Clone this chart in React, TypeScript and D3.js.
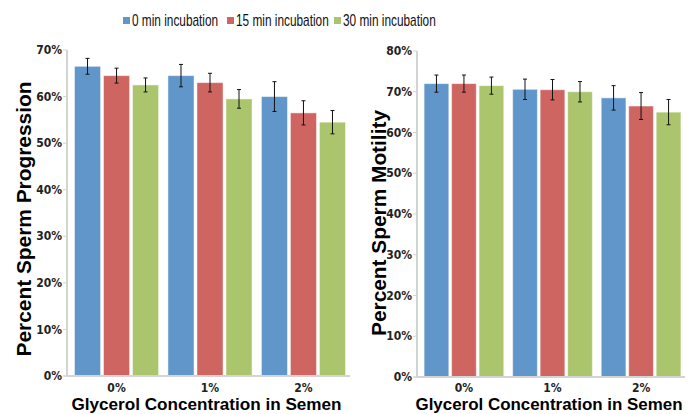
import * as d3 from 'd3';

// Data
const groups = ['0%', '1%', '2%'];
const seriesNames = ['0 min incubation', '15 min incubation', '30 min incubation'];
const seriesColors = ['#6096CA', '#CE6561', '#AAC56B'];

// Percent sperm progression (left panel), one array per series
const progression0 = [66.5, 64.5, 60.0];
const progression15 = [64.5, 63.0, 56.5];
const progression30 = [62.5, 59.5, 54.5];
const progressionErr0 = [1.7, 2.4, 3.2];
const progressionErr15 = [1.6, 2.0, 2.6];
const progressionErr30 = [1.5, 2.0, 2.5];

// Percent sperm motility (right panel)
const motility0 = [72.0, 70.6, 68.5];
const motility15 = [72.0, 70.5, 66.5];
const motility30 = [71.5, 70.0, 65.0];
const motilityErr0 = [2.1, 2.5, 3.0];
const motilityErr15 = [2.1, 2.5, 3.3];
const motilityErr30 = [2.1, 2.5, 3.1];

const progressionTicks = [0, 10, 20, 30, 40, 50, 60, 70];
const motilityTicks = [0, 10, 20, 30, 40, 50, 60, 70, 80];

const W = 693;
const H = 414;
const TICK_FONT = "'Liberation Sans Narrow', 'Arial Narrow', 'DejaVu Sans Condensed', sans-serif";
const FONT = "'Liberation Sans', Arial, sans-serif";

type PanelProps = {
  left: number;
  right: number;
  top: number;
  bottom: number;
  yMax: number;
  ticks: number[];
  values: number[][];
  errors: number[][];
  yTitle: string;
  yTitleX: number;
  yTitleY: number;
  yTitleLen: number;
  xTitleLen: number;
};

function Panel(p: PanelProps) {
  const { left, right, top, bottom, yMax, ticks, values, errors } = p;
  const y = d3.scaleLinear().domain([0, yMax]).range([bottom, top]);
  const x0 = d3.scaleBand<string>().domain(groups).range([left, right + 3]).paddingInner(0.1).paddingOuter(0.08);
  const x1 = d3.scaleBand<number>().domain([0, 1, 2]).range([0, x0.bandwidth()]).paddingInner(0.1);
  const axisColor = '#D4D4D4';

  return (
    <g>
      {/* y axis */}
      <line x1={left} x2={left} y1={top} y2={bottom} stroke={axisColor} strokeWidth={2} />
      {ticks.map((t) => (
        <g key={t}>
          <line x1={left - 4} x2={left} y1={y(t)} y2={y(t)} stroke={axisColor} strokeWidth={1} />
          <text
            x={left - 5}
            y={y(t)}
            dy="0.35em"
            textAnchor="end"
            fontFamily={TICK_FONT}
            fontWeight="bold"
            fontSize={12}
            fill="#222"
          >
            {t + '%'}
          </text>
        </g>
      ))}

      {/* bars with error bars */}
      {groups.map((g, gi) => (
        <g key={g} transform={'translate(' + x0(g) + ',0)'}>
          {values.map((vals, si) => {
            const bx = x1(si) as number;
            const bw = x1.bandwidth();
            const cx = bx + bw / 2;
            const v = vals[gi];
            const e = errors[si][gi];
            return (
              <g key={si}>
                <rect
                  x={bx}
                  y={y(v)}
                  width={bw}
                  height={bottom - y(v)}
                  fill={seriesColors[si]}
                  stroke="#FFFFFF"
                  strokeOpacity={0.5}
                  strokeWidth={1}
                />
                <line x1={cx} x2={cx} y1={y(v + e)} y2={y(v - e)} stroke="#111" strokeWidth={1} />
                <line x1={cx - 2} x2={cx + 2} y1={y(v + e)} y2={y(v + e)} stroke="#111" strokeWidth={1} />
                <line x1={cx - 2} x2={cx + 2} y1={y(v - e)} y2={y(v - e)} stroke="#111" strokeWidth={1} />
              </g>
            );
          })}
          <text
            x={x0.bandwidth() / 2}
            y={388}
            dy="0.35em"
            textAnchor="middle"
            fontFamily={TICK_FONT}
            fontWeight="bold"
            fontSize={12}
            fill="#222"
          >
            {g}
          </text>
        </g>
      ))}

      {/* x axis */}
      <line x1={left} x2={right} y1={bottom} y2={bottom} stroke={axisColor} strokeWidth={2} />
      <line x1={left - 4} x2={left} y1={bottom} y2={bottom} stroke={axisColor} strokeWidth={1} />

      {/* titles */}
      <text
        transform={'translate(' + p.yTitleX + ',' + p.yTitleY + ') rotate(-90)'}
        textAnchor="middle"
        fontFamily={FONT}
        fontWeight="bold"
        fontSize={21}
        textLength={p.yTitleLen}
        lengthAdjust="spacingAndGlyphs"
        fill="#000"
      >
        {p.yTitle}
      </text>
      <text
        x={(left + right) / 2 - 2}
        y={410}
        textAnchor="middle"
        fontFamily={FONT}
        fontWeight="bold"
        fontSize={16}
        textLength={p.xTitleLen}
        lengthAdjust="spacingAndGlyphs"
        fill="#000"
      >
        Glycerol Concentration in Semen
      </text>
    </g>
  );
}

export default function App() {
  const legendX = [123, 227, 334];

  return (
    <svg width={W} height={H} style={{ position: 'absolute', left: 0, top: 0, background: '#fff' }}>
      {/* legend: glyphs are squeezed horizontally as in the source figure */}
      {seriesNames.map((name, i) => (
        <g key={name}>
          <rect x={legendX[i]} y={17} width={7} height={7} fill={seriesColors[i]} />
          <text
            transform={'translate(' + (legendX[i] + 9) + ',26) scale(0.74,1)'}
            fontFamily={FONT}
            fontSize={16}
            fill="#111"
          >
            {name}
          </text>
        </g>
      ))}

      <Panel
        left={67}
        right={350}
        top={50}
        bottom={376}
        yMax={70}
        ticks={progressionTicks}
        values={[progression0, progression15, progression30]}
        errors={[progressionErr0, progressionErr15, progressionErr30]}
        yTitle="Percent Sperm Progression"
        yTitleX={31}
        yTitleY={219}
        yTitleLen={275}
        xTitleLen={270}
      />
      <Panel
        left={417}
        right={685}
        top={51}
        bottom={377}
        yMax={80}
        ticks={motilityTicks}
        values={[motility0, motility15, motility30]}
        errors={[motilityErr0, motilityErr15, motilityErr30]}
        yTitle="Percent Sperm Motility"
        yTitleX={386}
        yTitleY={223}
        yTitleLen={226}
        xTitleLen={267}
      />
    </svg>
  );
}
